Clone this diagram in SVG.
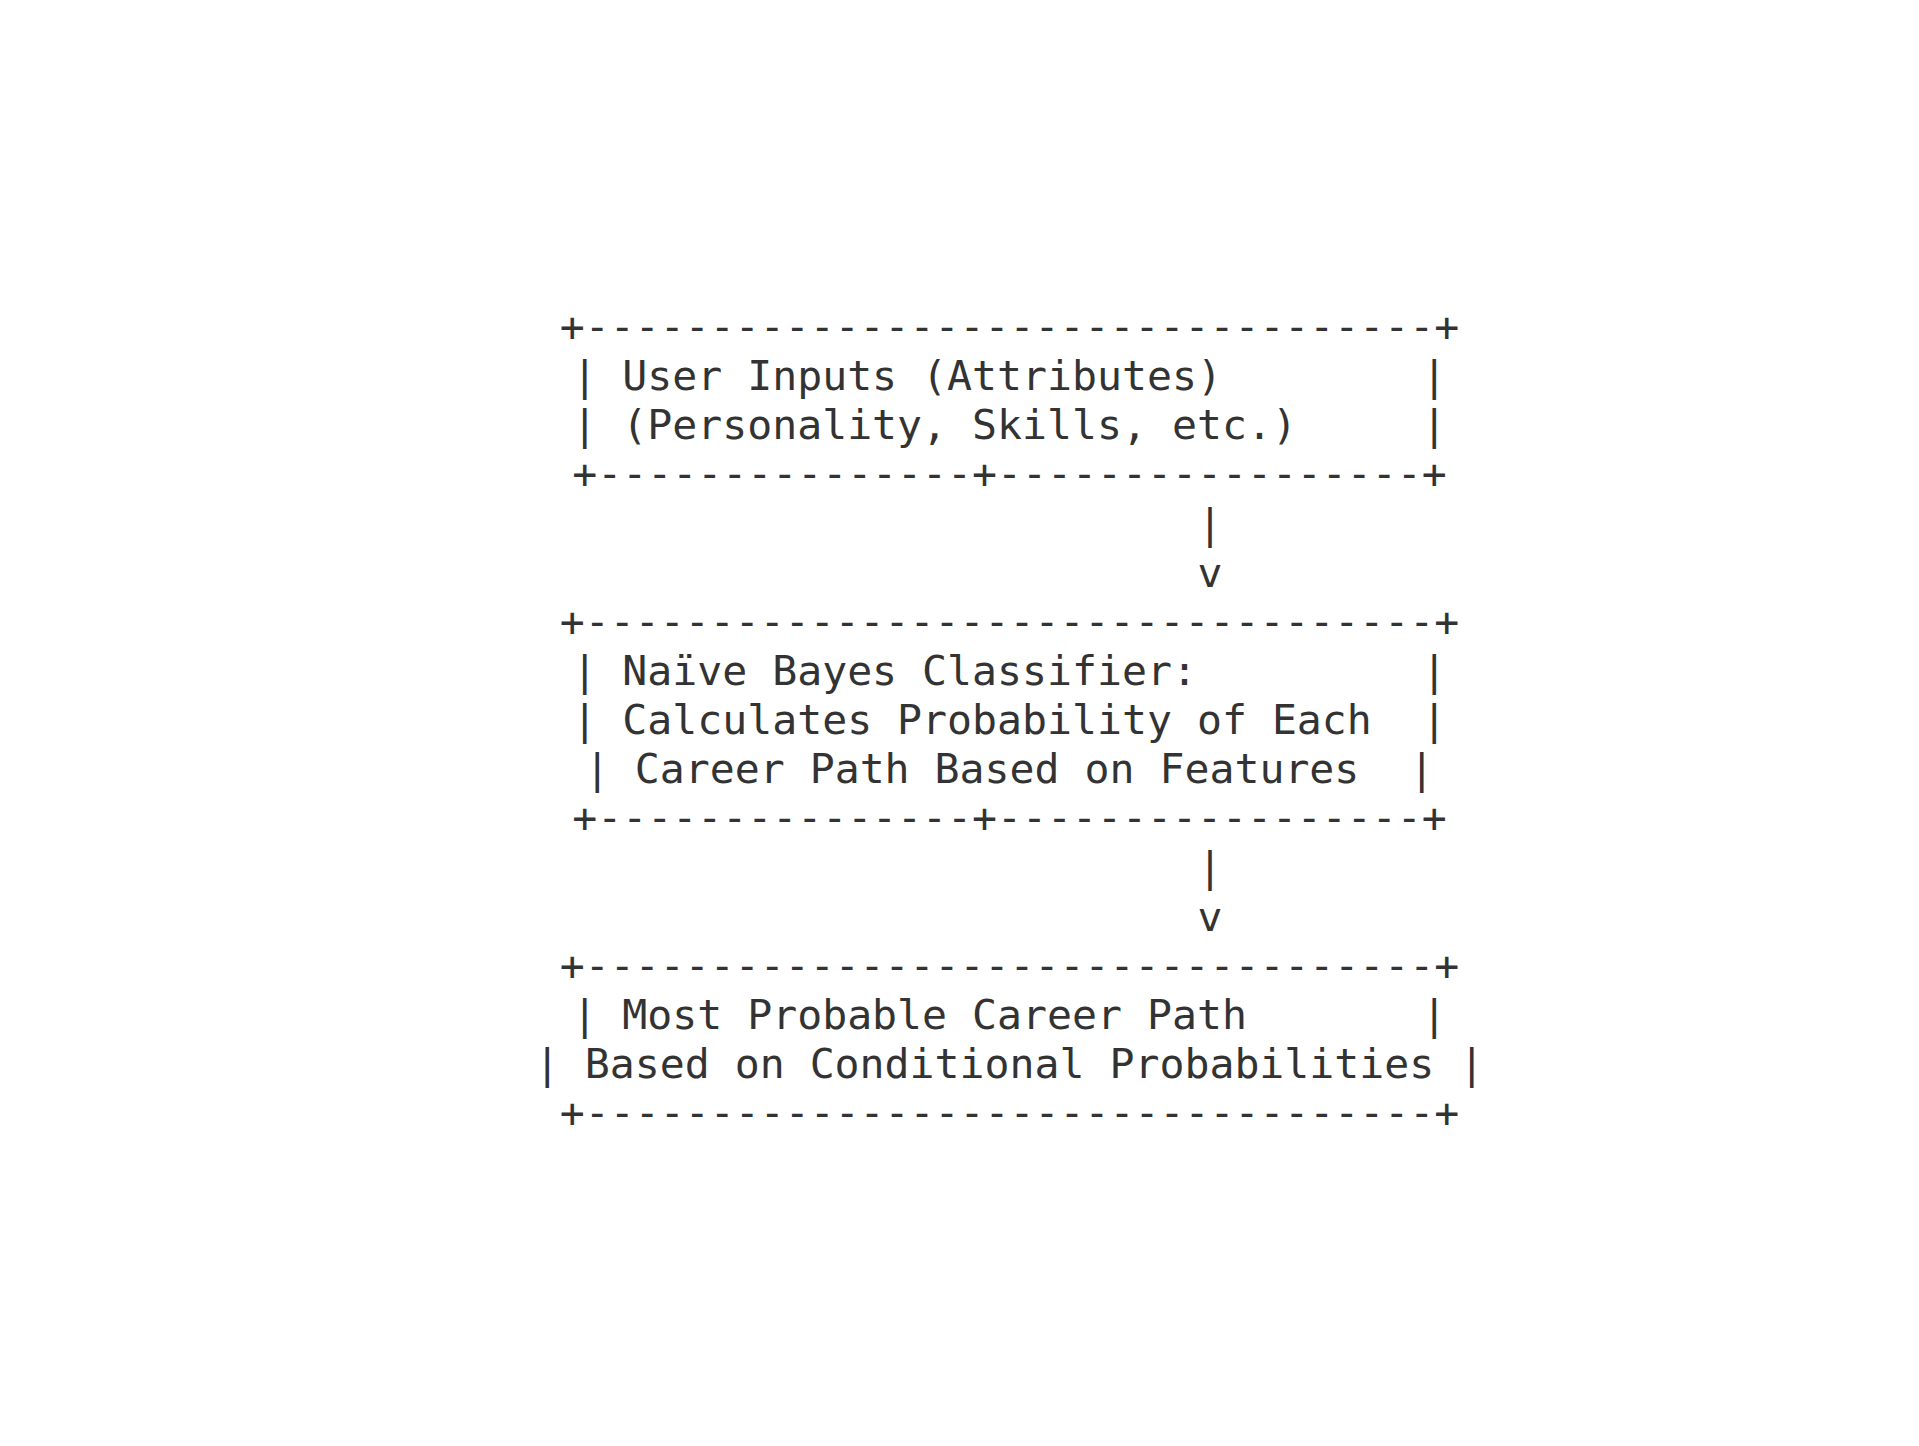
<svg xmlns="http://www.w3.org/2000/svg" width="1919" height="1446" viewBox="0 0 1919 1446">
<style>
text{font-family:"DejaVu Sans Mono","Liberation Mono",monospace;font-size:41.5px;fill:#333333;white-space:pre}
</style>
<rect x="0" y="0" width="1919" height="1446" fill="#ffffff"/>
<g id="node-user-inputs">
<text x="559.8" y="341" xml:space="preserve">+----------------------------------+</text>
<text x="572.3" y="390.1" xml:space="preserve">| User Inputs (Attributes)        |</text>
<text x="572.3" y="439.25" xml:space="preserve">| (Personality, Skills, etc.)     |</text>
<text x="572.3" y="488.4" xml:space="preserve">+---------------+-----------------+</text>
</g>
<g id="connectors">
<text x="1197.5" y="537.5" xml:space="preserve">|</text>
<text x="1197.5" y="586.6" xml:space="preserve">v</text>
<text x="1197.5" y="881.4" xml:space="preserve">|</text>
<text x="1197.5" y="930.5" xml:space="preserve">v</text>
</g>
<g id="node-naive-bayes">
<text x="559.8" y="635.75" xml:space="preserve">+----------------------------------+</text>
<text x="572.3" y="684.9" xml:space="preserve">| Naïve Bayes Classifier:         |</text>
<text x="572.3" y="734" xml:space="preserve">| Calculates Probability of Each  |</text>
<text x="584.8" y="783.1" xml:space="preserve">| Career Path Based on Features  |</text>
<text x="572.3" y="832.25" xml:space="preserve">+---------------+-----------------+</text>
</g>
<g id="node-career-path">
<text x="559.8" y="979.6" xml:space="preserve">+----------------------------------+</text>
<text x="572.3" y="1028.75" xml:space="preserve">| Most Probable Career Path       |</text>
<text x="534.8" y="1077.9" xml:space="preserve">| Based on Conditional Probabilities |</text>
<text x="559.8" y="1127" xml:space="preserve">+----------------------------------+</text>
</g>
</svg>
